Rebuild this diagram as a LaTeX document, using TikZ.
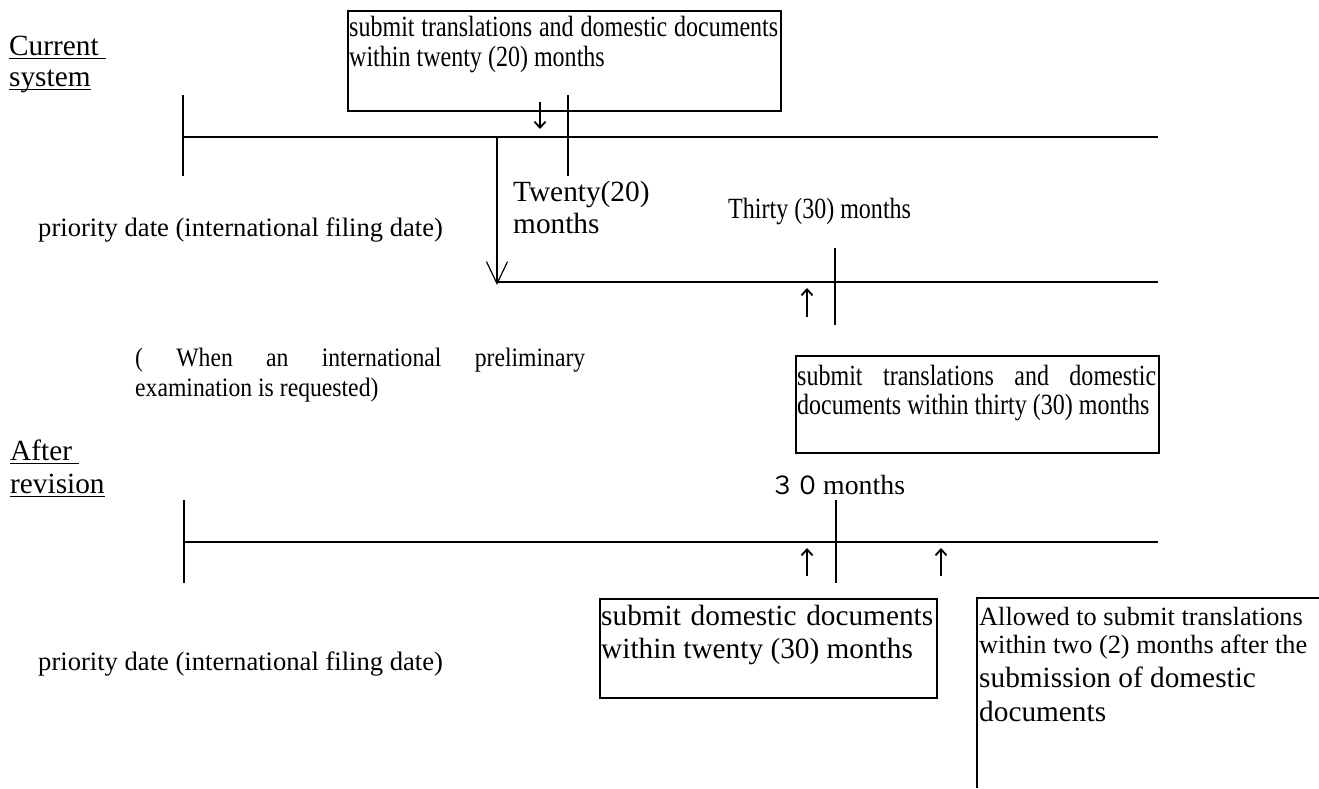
\documentclass[tikz,border=0pt]{standalone}
\usepackage{fontspec}
\setmainfont{Liberation Serif}
\newfontfamily\narrowfont[FakeStretch=0.82]{Liberation Serif}
\newfontfamily\notefont[FakeStretch=0.89]{Liberation Serif}
\newfontfamily\cjk{Noto Sans CJK JP}
\usetikzlibrary{arrows.meta}
% underlined word with a rule a little below the baseline
\newcommand\ulined[1]{\setbox0\hbox{#1}\rlap{\rule[-4pt]{\wd0}{1.5pt}}\box0}
\begin{document}
\begin{tikzpicture}[x=1pt,y=-1pt,
  rule/.style={line width=2pt},
  frame/.style={line width=1.8pt},
  pointer/.style={line width=1.8pt,-{Straight Barb[length=6pt,width=11pt]}},
  longpointer/.style={line width=1.2pt,-{Straight Barb[length=22pt,width=21pt]}},
  txt/.style={inner sep=0pt,anchor=base west,font=\fontsize{29.3}{33}\selectfont},
  narrowtxt/.style={inner sep=0pt,anchor=base west,font=\narrowfont\fontsize{29.3}{33}\selectfont},
  smalltxt/.style={inner sep=0pt,anchor=base west,font=\fontsize{26.6}{33}\selectfont},
  ipetxt/.style={inner sep=0pt,anchor=base west,font=\notefont\fontsize{26.6}{33}\selectfont},
  notetxt/.style={inner sep=0pt,anchor=base west,font=\fontsize{26.3}{33}\selectfont},
  boxrect/.style={draw,frame,inner sep=0pt,anchor=north west}
]
\useasboundingbox (0,0) rectangle (1319,788);

% ---------- current system ----------
\node[txt] (cur1) at (9,55) {\ulined{Current\ }};
\node[txt] (cur2) at (9,86) {\ulined{system}};

\node[boxrect,minimum width=433pt,minimum height=100pt] (box1) at (347,10) {};
\node[narrowtxt] (box1a) at (349,36) {\makebox[429pt][s]{submit translations and domestic documents}};
\node[narrowtxt] (box1b) at (349,66) {within twenty (20) months};

\coordinate (l1s) at (183,137);
\coordinate (l1e) at (1158,137);
\draw[rule] (l1s) -- (l1e);
\coordinate (k1t) at (183,95);  \coordinate (k1b) at (183,176);
\draw[rule] (k1t) -- (k1b);
\coordinate (k2t) at (568,95);  \coordinate (k2b) at (568,176);
\draw[rule] (k2t) -- (k2b);
\coordinate (a1s) at (540,102); \coordinate (a1e) at (540,129);
\draw[pointer] (a1s) -- (a1e);

\node[txt] (tw1) at (513,201) {Twenty(20)};
\node[txt] (tw2) at (513,233) {months};
\node[narrowtxt] (th) at (728,218) {Thirty (30) months};
\node[smalltxt] (prio1) at (38,236) {priority date (international filing date)};

% branch for the international preliminary examination
\coordinate (br) at (497,137);
\coordinate (l2s) at (497,282);
\coordinate (l2e) at (1158,282);
\draw[longpointer] (br) -- ([yshift=-3pt]l2s);
\draw[rule] (l2s) -- (l2e);
\coordinate (k3t) at (835,248); \coordinate (k3b) at (835,325);
\draw[rule] (k3t) -- (k3b);
\coordinate (a2s) at (807,317); \coordinate (a2e) at (807,288);
\draw[pointer] (a2s) -- (a2e);

\node[ipetxt] (ipe1) at (128,366) {\makebox[457pt][s]{\hspace*{7pt}(\ When an international preliminary}};
\node[ipetxt] (ipe2) at (135,396) {examination is requested)};

\node[boxrect,minimum width=363pt,minimum height=97pt] (box2) at (795,355) {};
\node[narrowtxt] (box2a) at (797,385) {\makebox[359pt][s]{submit translations and domestic}};
\node[narrowtxt] (box2b) at (797,414) {documents within thirty (30) months};

% ---------- after revision ----------
\node[txt] (aft1) at (10,460) {\ulined{After\ }};
\node[txt] (aft2) at (10,493) {\ulined{revision}};
\node[inner sep=0pt,anchor=base west] (m30) at (770,494)
  {{\cjk\fontsize{25}{30}\selectfont ３０}\hspace{3pt}{\fontsize{27.8}{33}\selectfont months}};

\coordinate (l3s) at (184,542);
\coordinate (l3e) at (1158,542);
\draw[rule] (l3s) -- (l3e);
\coordinate (k4t) at (184,500); \coordinate (k4b) at (184,583);
\draw[rule] (k4t) -- (k4b);
\coordinate (k5t) at (836,500); \coordinate (k5b) at (836,583);
\draw[rule] (k5t) -- (k5b);
\coordinate (a3s) at (807,576); \coordinate (a3e) at (807,548);
\draw[pointer] (a3s) -- (a3e);
\coordinate (a4s) at (941,576); \coordinate (a4e) at (941,548);
\draw[pointer] (a4s) -- (a4e);

\node[smalltxt] (prio2) at (38,670) {priority date (international filing date)};

\node[boxrect,minimum width=337pt,minimum height=99pt] (box4) at (599,598) {};
\node[txt] (box4a) at (601,625) {\makebox[332pt][s]{submit domestic documents}};
\node[txt] (box4b) at (601,658) {within twenty (30) months};

\coordinate (b3a) at (977,788);
\coordinate (b3b) at (977,598);
\coordinate (b3c) at (1319,598);
\draw[frame] (b3a) -- (b3b) -- (b3c);
\node[notetxt] (n1) at (979,625) {Allowed to submit translations};
\node[notetxt] (n2) at (979,653) {within two (2) months after the};
\node[txt] (n3) at (979,687) {submission of domestic};
\node[txt] (n4) at (979,721) {documents};
\end{tikzpicture}
\end{document}
